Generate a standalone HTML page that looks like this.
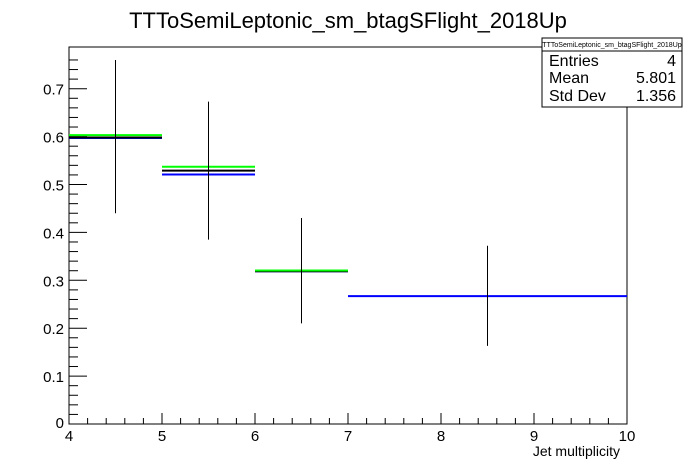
<!DOCTYPE html>
<html><head><meta charset="utf-8"><style>
body{margin:0;background:#fff}
svg{display:block;font-family:"Liberation Sans",Arial,sans-serif}
</style></head><body>
<svg id="c" width="696" height="472">
<rect width="696" height="472" fill="#fff"/>
<text x="348" y="28" font-size="22" text-anchor="middle">TTToSemiLeptonic_sm_btagSFlight_2018Up</text>
<g id="axes"></g>
<g id="marks"></g>
<text x="620" y="456" font-size="14" text-anchor="end">Jet multiplicity</text>
<g>
<rect x="542" y="38" width="140" height="69" fill="#fff" stroke="#000" stroke-width="1"/>
<line x1="542" y1="51" x2="682" y2="51" stroke="#000"/>
<text x="612" y="47" font-size="7" text-anchor="middle">TTToSemiLeptonic_sm_btagSFlight_2018Up</text>
<text x="549" y="66" font-size="16">Entries</text><text x="676" y="66" font-size="16" text-anchor="end">4</text>
<text x="549" y="83" font-size="16">Mean</text><text x="676" y="83" font-size="16" text-anchor="end">5.801</text>
<text x="549" y="101" font-size="16">Std Dev</text><text x="676" y="101" font-size="16" text-anchor="end">1.356</text>
</g>
</svg>
<script>
const binEdges=[4,5,6,7,10];
const blackVals=[0.598,0.529,0.319,null];
const greenVals=[0.603,0.537,0.3205,null];
const blueVals=[0.597,0.521,0.319,0.267];
const errLow=[0.440,0.385,0.210,0.163];
const errHigh=[0.760,0.673,0.430,0.372];
const xTicks=[4,5,6,7,8,9,10];
const yTicks=[0,0.1,0.2,0.3,0.4,0.5,0.6,0.7];
const L=69,R=627,T=47,B=424;
const xs=v=>L+(v-4)/6*(R-L);
const ys=v=>B-v*479;
const NS="http://www.w3.org/2000/svg";
function ln(g,x1,y1,x2,y2,c,name){const e=document.createElementNS(NS,'line');
e.setAttribute('x1',x1);e.setAttribute('y1',y1);e.setAttribute('x2',x2);e.setAttribute('y2',y2);
e.setAttribute('stroke',c);e.setAttribute('stroke-width',name.startsWith('bar')?2:1);


g.appendChild(e);return e;}
function tx(g,x,y,s,anchor,name){const e=document.createElementNS(NS,'text');
e.setAttribute('x',x);e.setAttribute('y',y);e.setAttribute('font-size',15);e.setAttribute('text-anchor',anchor);e.textContent=s;


g.appendChild(e);}
const ax=document.getElementById('axes');
const fr=document.createElementNS(NS,'rect');
fr.setAttribute('x',L);fr.setAttribute('y',T);fr.setAttribute('width',R-L);fr.setAttribute('height',B-T);
fr.setAttribute('fill','none');fr.setAttribute('stroke','#000');


ax.appendChild(fr);
for(let v=4;v<=10.001;v+=0.2){const maj=Math.abs(v-Math.round(v))<1e-6;ln(ax,xs(v),B,xs(v),B-(maj?11:6),'#000','x-tick');}
for(let v=0;v<=0.78;v+=0.02){const maj=Math.abs(v*10-Math.round(v*10))<1e-6;ln(ax,L,ys(v),L+(maj?18:9),ys(v),'#000','y-tick');}
xTicks.forEach(v=>tx(ax,xs(v),B+17,String(v),'middle','x-tick-label'));
yTicks.forEach(v=>tx(ax,L-5,ys(v)+(v===0?4:6),v===0?'0':v.toFixed(1),'end','y-tick-label'));
const mk=document.getElementById('marks');
for(let i=0;i<binEdges.length-1;i++){
 const x1=xs(binEdges[i]),x2=xs(binEdges[i+1]),xc=(x1+x2)/2;
 if(blueVals[i]!==null) ln(mk,x1,ys(blueVals[i]),x2,ys(blueVals[i]),'#0000ff','bar-blue');
 if(blackVals[i]!==null) ln(mk,x1,ys(blackVals[i]),x2,ys(blackVals[i]),'#000','bar-black');
 if(greenVals[i]!==null) ln(mk,x1,ys(greenVals[i]),x2,ys(greenVals[i]),'#00ff00','bar-green');
 ln(mk,xc,ys(errLow[i]),xc,ys(errHigh[i]),'#000','error-bar');
}
</script>
</body></html>
